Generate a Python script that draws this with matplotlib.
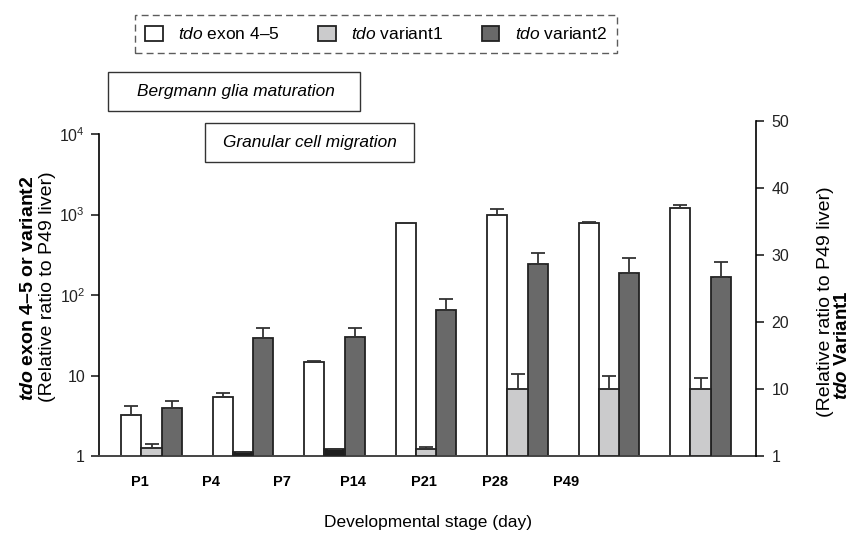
import numpy as np
import matplotlib
matplotlib.use("Agg")
import matplotlib.pyplot as plt
from matplotlib.patches import Rectangle

plt.rcParams['font.family'] = ['Liberation Sans', 'DejaVu Sans']
plt.rcParams['mathtext.fontset'] = 'custom'
plt.rcParams['mathtext.rm'] = 'Liberation Sans'
plt.rcParams['mathtext.it'] = 'Liberation Sans:italic'
plt.rcParams['mathtext.bf'] = 'Liberation Sans:bold'
plt.rcParams['mathtext.bfit'] = 'Liberation Sans:italic:bold'

# data
stages = ['P1', 'P4', 'P7', 'P14', 'P21', 'P28', 'P49']
exon45 = [3.2, 5.4, 14.8, 790, 985, 785, 1200]          # left (log) axis
exon45_err = [1.0, 0.6, 0.2, 0, 175, 20, 100]
variant2 = [4.0, 29, 30, 65, 243, 186, 165]            # left (log) axis
variant2_err = [0.8, 10, 9, 25, 93, 105, 92]
variant1 = [1.2, 0.55, 1.0, 1.0, 10, 10, 10]           # right (linear) axis
variant1_err = [0.6, 0, 0, 0.3, 2.2, 2.0, 1.6]

W, H = 853, 541
fig = plt.figure(figsize=(W / 100, H / 100), dpi=100)

def fx(px):
    return px / W

def fy(py):
    return 1 - py / H

# axes geometry in pixels
x0, x1 = 99, 756
ybot, ytop_l, ytop_r = 456, 134, 121

ax = fig.add_axes([fx(x0), fy(ybot), fx(x1) - fx(x0), (ybot - ytop_l) / H])
ax2 = fig.add_axes([fx(x0), fy(ybot), fx(x1) - fx(x0), (ybot - ytop_r) / H])
ax2.patch.set_visible(False)

c_white, c_light, c_dark = '#ffffff', '#cbcbcc', '#696969'
edge = '#222222'
v1_colors = [c_light, '#1e1e1e', '#1e1e1e', c_light, c_light, c_light, c_light]

x = np.arange(len(stages))
w = 0.222
ekw = dict(ecolor='#333333', elinewidth=1.3, capsize=5, capthick=1.3)

b1 = ax.bar(x - w, exon45, w, color=c_white, edgecolor=edge, linewidth=1.3,
            yerr=[np.zeros(7), exon45_err], error_kw=ekw, zorder=2)
b3 = ax.bar(x + w, variant2, w, color=c_dark, edgecolor=edge, linewidth=1.3,
            yerr=[np.zeros(7), variant2_err], error_kw=ekw, zorder=2)
b2 = ax2.bar(x, variant1, w, color=v1_colors, edgecolor=edge, linewidth=1.3,
             yerr=[np.zeros(7), variant1_err], error_kw=ekw, zorder=2)

xlim = ((x0 - 151.5) / 91.5, (x1 - 151.5) / 91.5)

# left axis
ax.set_yscale('log')
ax.set_ylim(1, 1e4)
ax.set_xlim(*xlim)
ax.set_yticks([1, 10, 100, 1000, 10000])
ax.set_yticklabels(['1', '10', r'$10^2$', r'$10^3$', r'$10^4$'], fontsize=11.5)
ax.yaxis.set_minor_locator(matplotlib.ticker.NullLocator())
ax.tick_params(axis='y', length=6, width=1.2, pad=4, colors='#222222')
for s in ['top', 'right']:
    ax.spines[s].set_visible(False)
ax.spines['left'].set_linewidth(1.2)
ax.spines['bottom'].set_linewidth(1.4)
ax.spines['bottom'].set_color('#444444')

# x tick labels (offset from bar groups as in the original)
tick_pos = -0.126 + 0.777 * np.arange(len(stages))
ax.set_xticks(tick_pos)
ax.set_xticklabels(stages, fontsize=10.5, fontweight='bold')
ax.tick_params(axis='x', length=0, pad=14)

# right axis
ax2.set_ylim(0, 50)
ax2.set_xlim(*xlim)
ax2.set_xticks([])
ax2.yaxis.tick_right()
ax2.set_yticks([0, 10, 20, 30, 40, 50])
ax2.set_yticklabels(['1', '10', '20', '30', '40', '50'], fontsize=11.5)
ax2.tick_params(axis='y', length=6, width=1.2, pad=5, colors='#222222')
for s in ['top', 'left', 'bottom']:
    ax2.spines[s].set_visible(False)
ax2.spines['right'].set_linewidth(1.2)

# axis titles
fig.text(fx(29), fy(288), r'$\mathbfit{tdo}$ exon 4–5 or variant2', rotation=90,
         ha='center', va='center', fontsize=14, fontweight='bold')
fig.text(fx(48), fy(287), '(Relative ratio to P49 liver)', rotation=90,
         ha='center', va='center', fontsize=14)
fig.text(fx(826), fy(302), '(Relative ratio to P49 liver)', rotation=90,
         ha='center', va='center', fontsize=14)
fig.text(fx(843), fy(345), r'$\mathbfit{tdo}$ Variant1', rotation=90,
         ha='center', va='center', fontsize=13.5, fontweight='bold')
fig.text(fx(428), fy(523), 'Developmental stage (day)', ha='center', va='center',
         fontsize=12.5)

# annotation boxes
def box(l, t, r, b, text, tx):
    fig.patches.append(Rectangle((fx(l), fy(b)), fx(r) - fx(l), (b - t) / H,
                                 transform=fig.transFigure, fill=False,
                                 edgecolor='#333333', linewidth=1.0))
    fig.text(fx(tx), fy((t + b) / 2), text, ha='left', va='center',
             fontsize=12.4, style='italic')

box(108, 72, 360, 111, 'Bergmann glia maturation', 137)
box(205, 123, 414, 162, 'Granular cell migration', 223)

# legend
labels = [r'$\mathit{tdo}$ exon 4–5', r'$\mathit{tdo}$ variant1', r'$\mathit{tdo}$ variant2']
leg = fig.legend([b1[0], b2[0], b3[0]], labels, ncol=3, loc='center',
                 bbox_to_anchor=(fx(376), fy(34)), fontsize=12.5,
                 handlelength=1.0, handleheight=1.0, columnspacing=2.2,
                 handletextpad=0.9, fancybox=False, borderpad=0.6)
leg.legend_handles[1].set_facecolor(c_light)
frame = leg.get_frame()
frame.set_linestyle((0, (5, 3)))
frame.set_edgecolor('#333333')
frame.set_linewidth(1.0)

fig.savefig('out.png', dpi=100)
